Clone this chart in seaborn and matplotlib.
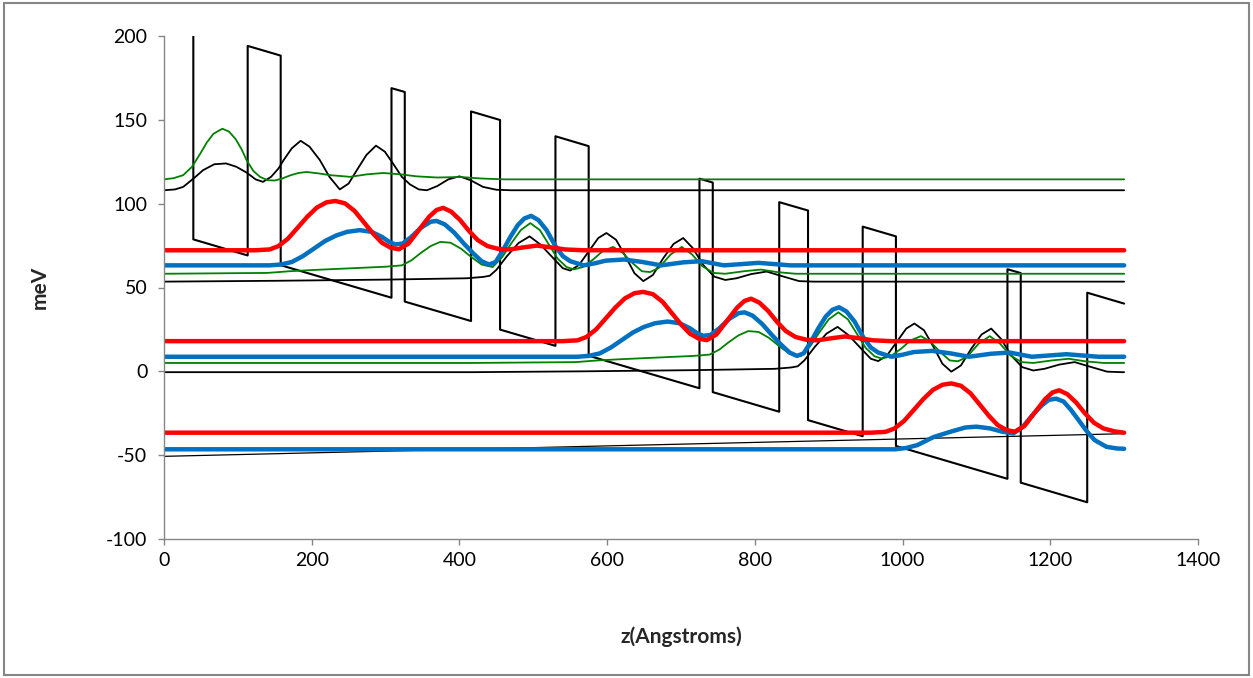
import numpy as np
import pandas as pd
import matplotlib
matplotlib.use("Agg")
import matplotlib.pyplot as plt
from matplotlib.patches import Rectangle
import seaborn as sns

# ---------------- data ----------------
Z_START, Z_END = 0.0, 1300.0

# conduction band profile corners (z in Angstrom, E in meV)
band_z = [39.7, 39.7, 113.3, 113.3, 158, 158, 308, 308, 326, 326, 415.7, 415.7,
          455, 455, 530, 530, 575, 575, 725, 725, 743, 743, 833, 833, 872, 872,
          946, 946, 991, 991, 1142, 1142, 1160, 1160, 1250, 1250, 1300]
band_E = [203.6, 78.7, 69.1, 194.1, 188.3, 63.3, 43.9, 168.9, 166.6, 41.6, 30.0, 155.0,
          149.9, 24.9, 15.2, 140.2, 134.3, 9.3, -10.1, 114.9, 112.6, -12.4, -24.1, 100.9,
          95.9, -29.1, -38.7, 86.3, 80.5, -44.5, -64.1, 60.9, 58.6, -66.4, -78.1, 46.9, 40.4]

# thin straight line near the bottom
ref_z = [0, 1300]
ref_E = [-50.7, -37.2]

# red state: shape (offset above its level) and its three copies
red_dz = [540, 560, 572, 585, 598, 611, 624, 637, 649, 662, 675, 688, 700, 712, 724, 735,
          748, 762, 776, 786, 795, 806, 818, 830, 842, 855, 870, 885, 905, 922, 940, 960, 985]
red_dE = [0, 0.5, 2.5, 7, 13.5, 20, 25.5, 28.6, 29.4, 28, 23.5, 16.5, 10, 4.5, 1.5, 0.6,
          4, 12, 20, 24, 25.3, 23, 18, 11.5, 6, 2.5, 0.8, 0.5, 1.8, 2.8, 1.8, 0.5, 0]
red_levels = [72.2, 18.0, -36.6]
red_shifts = [-417, 0, 417]

# blue state: shape used for the two upper copies
blue_dz = [560, 575, 590, 605, 620, 635, 650, 665, 682, 698, 712, 722, 730, 740, 752, 765,
           778, 786, 797, 810, 823, 836, 847, 857, 866, 876, 886, 896, 905, 914, 924, 935,
           947, 957, 967, 985, 1000, 1015, 1040, 1065, 1090, 1120, 1145, 1175, 1222, 1265]
blue_dE = [0, 0.5, 2, 5.5, 10, 14.5, 17.8, 20, 21, 20, 17, 14, 12.5, 13, 17, 22.5,
           26, 26.5, 24.5, 19.5, 13, 7, 2.5, 0.5, 2, 9, 17, 24, 28, 29.5, 27, 21,
           11.5, 5.5, 2.5, 0, 1.2, 2.8, 3.5, 2, 0, 1.8, 2.5, 0, 1.5, 0]
blue_levels = [63.2, 8.7]
blue_shifts = [-417, 0]
# lowest blue copy, read on its own
blue3_level = -46.5
blue3_dz = [990, 1005, 1020, 1042, 1065, 1085, 1100, 1118, 1135, 1150, 1163, 1177, 1188,
            1198, 1208, 1218, 1228, 1239, 1249, 1260, 1276, 1290, 1300]
blue3_dE = [0, 0.8, 2.5, 7.3, 10.5, 13, 13.5, 12.5, 10.5, 9.5, 13.5, 21, 26,
            29.5, 30.2, 28.5, 23.5, 17, 11, 5.5, 1.5, 0.5, 0.3]

# green state: shape of the two lower copies
green_dz = [0, 140, 170, 200, 250, 300, 322, 335, 348, 361, 374, 388, 402, 416, 430, 445,
            458, 470, 483, 496, 509, 521, 533, 545, 555, 567, 581, 594, 608, 621, 634, 647,
            658, 670, 686, 701, 715, 729, 744, 760, 785, 808, 830, 855]
green_dE = [0, 0.5, 1.5, 2.2, 3.2, 4.2, 5, 8, 12.5, 16.5, 19, 18.5, 15, 10, 5.5, 4,
            10, 18, 26, 30.2, 26, 17.5, 9, 4, 2.6, 4, 8.5, 13.5, 16, 12.5, 6.5, 1.5,
            1, 3.5, 11.5, 16, 11.5, 4.5, 0.5, 0, 1.5, 2.5, 1, 0]
green_levels = [58.2, 5.0]
green_shifts = [0, 417]
# top green curve
green_top_z = [0, 13, 26, 38, 49, 58, 67, 79, 88, 97, 105, 112, 121, 130, 140, 150, 160,
               171, 182, 193, 210, 225, 252, 275, 297, 320, 342, 370, 401, 430, 460, 1300]
green_top_E = [114.5, 115.2, 117, 122, 129.8, 136.5, 141.7, 144.7, 143, 138.5, 132.5, 125.8,
               119.5, 116, 114, 113.8, 115, 116.9, 118.3, 118.9, 118, 117, 116, 117.5, 118.3,
               117.5, 116.3, 115.6, 115.9, 115, 114.5, 114.5]

# black state: shape of the two lower copies
black_dz = [0, 150, 300, 410, 432, 441, 450, 464, 480, 495, 510, 527, 540, 550, 562, 575,
            588, 599, 612, 625, 637, 649, 662, 676, 690, 703, 716, 730, 745, 760, 775, 795,
            816, 835, 860, 880]
black_dE = [0, 0.5, 1.2, 2, 2.8, 3.5, 7, 15, 23, 27, 22, 14, 8, 6.6, 10, 18,
            26, 29, 25, 15, 5, 0.3, 4, 14, 22.5, 26, 20, 10, 3, 1, 2, 4.5,
            6, 3.5, 0.3, 0]
black_levels = [53.5, -0.5]
black_shifts = [0, 417]
# top black curve
black_top_z = [0, 15, 26, 40, 53, 68, 84, 98, 112, 124, 134, 145, 155, 162, 173, 185, 197,
               211, 224, 238, 250, 261, 274, 287, 299, 310, 322, 333, 345, 356, 370, 385,
               400, 415, 432, 450, 470, 1300]
black_top_E = [108, 108.5, 110, 115, 120, 123.5, 124, 122, 118.5, 114.5, 113, 116, 121, 126,
               133, 137.5, 134, 126, 116, 108.5, 112, 119.9, 129, 134.6, 131, 124, 116, 111.5,
               108.5, 108, 110.5, 114.5, 116.3, 114, 110, 108.3, 108, 108]

x_ticks = [0, 200, 400, 600, 800, 1000, 1200, 1400]
y_ticks = [-100, -50, 0, 50, 100, 150, 200]
x_label = "z(Angstroms)"
y_label = "meV"

# ---------------- helpers ----------------
def copy_of(dz, dE, level, shift):
    z = np.asarray(dz, float) + shift
    e = np.asarray(dE, float) + level
    keep = (z >= Z_START) & (z <= Z_END)
    z, e = list(z[keep]), list(e[keep])
    if z[0] > Z_START:
        z.insert(0, Z_START); e.insert(0, level)
    if z[-1] < Z_END:
        z.append(Z_END); e.append(level)
    return z, e

def draw(ax, z, e, color, lw):
    df = pd.DataFrame({"z": z, "E": e})
    sns.lineplot(data=df, x="z", y="E", ax=ax, sort=False, estimator=None,
                 color=color, linewidth=lw, legend=False)

# ---------------- figure ----------------
sns.set_theme(style="white")
plt.rcParams["font.family"] = ["Lato", "DejaVu Sans"]

W, H = 1253, 678
fig = plt.figure(figsize=(W / 100, H / 100), dpi=100)
ax = fig.add_axes([164 / W, 1 - 539 / H, (1198 - 164) / W, (539 - 36) / H])

RED, BLUE, GREEN, BLACK = "#FF0000", "#0070C0", "#008000", "#000000"

draw(ax, band_z, band_E, BLACK, 1.5)
draw(ax, ref_z, ref_E, BLACK, 0.9)

for lv, sh in zip(black_levels, black_shifts):
    z, e = copy_of(black_dz, black_dE, lv, sh)
    draw(ax, z, e, BLACK, 1.3)
draw(ax, black_top_z, black_top_E, BLACK, 1.3)

for lv, sh in zip(green_levels, green_shifts):
    z, e = copy_of(green_dz, green_dE, lv, sh)
    draw(ax, z, e, GREEN, 1.3)
draw(ax, green_top_z, green_top_E, GREEN, 1.3)

for lv, sh in zip(blue_levels, blue_shifts):
    z, e = copy_of(blue_dz, blue_dE, lv, sh)
    draw(ax, z, e, BLUE, 3.2)
z, e = copy_of(blue3_dz, blue3_dE, blue3_level, 0)
draw(ax, z, e, BLUE, 3.2)

for lv, sh in zip(red_levels, red_shifts):
    z, e = copy_of(red_dz, red_dE, lv, sh)
    draw(ax, z, e, RED, 3.2)

ax.set_xlim(0, 1400)
ax.set_ylim(-100, 200)
ax.set_xticks(x_ticks)
ax.set_yticks(y_ticks)
ax.set_xticklabels([str(t) for t in x_ticks])
ax.set_yticklabels([str(t) for t in y_ticks])

for s in ["top", "right"]:
    ax.spines[s].set_visible(False)
for s in ["left", "bottom"]:
    ax.spines[s].set_color("#868686")
    ax.spines[s].set_linewidth(1.0)
ax.tick_params(axis="both", which="major", direction="out", length=4, width=1,
               color="#868686", labelsize=14, labelcolor="#000000",
               bottom=True, left=True)
ax.tick_params(axis="x", pad=5)
ax.tick_params(axis="y", pad=8)
ax.grid(False)

ax.set_xlabel(x_label, fontsize=15, fontweight="bold", va="center")
ax.xaxis.set_label_coords(0.5, (539 - 637) / 503)
ax.set_ylabel(y_label, fontsize=15, fontweight="bold", va="center")
ax.yaxis.set_label_coords((40 - 164) / 1034, 0.5)

fig.patches.append(Rectangle((4 / W, 3 / H), (1249 - 4) / W, (675 - 3) / H,
                             transform=fig.transFigure, fill=False,
                             edgecolor="#868686", linewidth=1.5))

fig.savefig("out.png", dpi=100)
